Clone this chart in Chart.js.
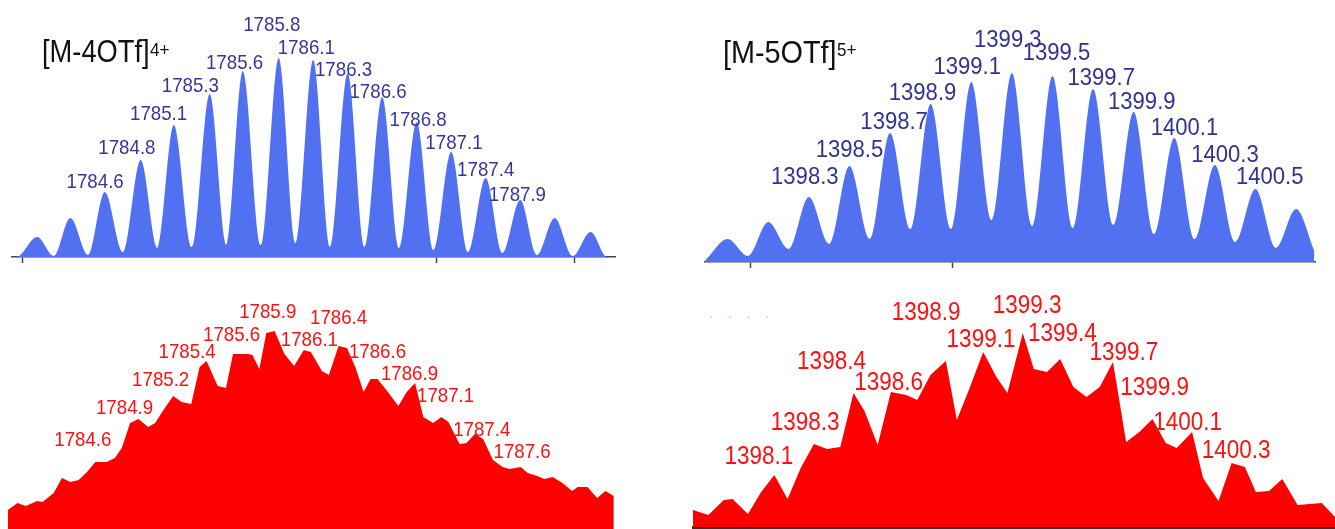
<!DOCTYPE html>
<html>
<head>
<meta charset="utf-8">
<script src="https://cdn.jsdelivr.net/npm/chart.js@4.4.1/dist/chart.umd.min.js"></script>
<style>
  html, body { margin: 0; padding: 0; background: #fff; }
  body { width: 1335px; height: 529px; position: relative; overflow: hidden; font-family: "Liberation Sans", Arial, sans-serif; }
  canvas { position: absolute; }
  .title { position: absolute; color: #111; line-height: 1; white-space: nowrap; transform-origin: 0 0; }
  .dots { position: absolute; color: #f2b9b9; font-size: 14px; line-height: 1; letter-spacing: 14px; }
</style>
</head>
<body>
<canvas id="tl" width="660" height="270" style="left:0;top:0"></canvas>
<canvas id="tr" width="655" height="275" style="left:680px;top:0"></canvas>
<canvas id="bl" width="660" height="249" style="left:0;top:280px"></canvas>
<canvas id="br" width="655" height="249" style="left:680px;top:280px"></canvas>

<div class="title" style="left:42px;top:36px;font-size:31px;transform:scaleX(0.88)">[M-4OTf]</div>
<div class="title" style="left:150px;top:41px;font-size:18px;transform:scaleX(0.95)">4+</div>
<div class="title" style="left:723px;top:36px;font-size:32px;transform:scaleX(0.9)">[M-5OTf]</div>
<div class="title" style="left:837px;top:41px;font-size:18px;transform:scaleX(0.95)">5+</div>
<div class="dots" style="left:709px;top:309px">····</div>

<script>
// [M-4OTf]4+ calculated isotope pattern (m/z, relative intensity)
const tlMz = [1783.93, 1783.96, 1784.11, 1784.23, 1784.35, 1784.48, 1784.60, 1784.73, 1784.86, 1784.98,
  1785.10, 1785.23, 1785.36, 1785.48, 1785.60, 1785.73, 1785.86, 1785.98, 1786.11, 1786.23,
  1786.36, 1786.48, 1786.61, 1786.73, 1786.86, 1786.98, 1787.11, 1787.23, 1787.36, 1787.48,
  1787.61, 1787.73, 1787.86, 1787.99, 1788.12, 1788.24, 1788.30];
const tlInt = [0, 0, 10.0, 0.5, 19.6, 1.0, 32.6, 2.5, 48.7, 4.5,
  66.3, 5.0, 81.8, 6.0, 93.4, 6.0, 99.9, 7.0, 98.9, 5.0,
  92.4, 5.0, 80.3, 4.5, 67.8, 3.5, 52.7, 2.5, 39.7, 2.0,
  28.6, 1.0, 19.6, 0.5, 12.6, 0, 0];
const tlTicks = [1784, 1787, 1788];
const tlLabels = ['1784.6', '1784.8', '1785.1', '1785.3', '1785.6', '1785.8', '1786.1', '1786.3', '1786.6', '1786.8', '1787.1', '1787.4', '1787.9'];
const tlLabelMz = [1784.53, 1784.76, 1784.99, 1785.22, 1785.54, 1785.81, 1786.06, 1786.33, 1786.58, 1786.87, 1787.13, 1787.36, 1787.59];
const tlLabelInt = [37.7, 54.7, 71.8, 85.9, 97.4, 116.5, 104.9, 93.9, 82.8, 68.8, 57.2, 43.7, 31.1];

// [M-5OTf]5+ calculated isotope pattern
const trMz = [1397.78, 1397.89, 1397.99, 1398.09, 1398.19, 1398.29, 1398.39, 1398.49, 1398.59, 1398.69,
  1398.79, 1398.89, 1398.99, 1399.09, 1399.19, 1399.29, 1399.39, 1399.49, 1399.59, 1399.69,
  1399.79, 1399.89, 1399.99, 1400.09, 1400.19, 1400.29, 1400.39, 1400.49, 1400.59, 1400.69, 1400.78];
const trInt = [1.0, 12.2, 3.2, 21.1, 6.9, 34.4, 9.5, 50.7, 12.2, 68.2,
  17.4, 83.5, 17.4, 95.2, 22.2, 99.9, 19.0, 98.3, 18.0, 91.5,
  19.6, 79.3, 14.8, 65.6, 12.2, 51.3, 10.6, 38.6, 7.4, 28.0, 5.8];
const trTicks = [1398, 1399];
const trLabels = ['1398.3', '1398.5', '1398.7', '1398.9', '1399.1', '1399.3', '1399.5', '1399.7', '1399.9', '1400.1', '1400.3', '1400.5'];
const trLabelMz = [1398.27, 1398.49, 1398.71, 1398.85, 1399.07, 1399.27, 1399.51, 1399.73, 1399.93, 1400.14, 1400.34, 1400.56];
const trLabelInt = [44.9, 59.2, 74.0, 89.3, 103.1, 117.4, 110.5, 97.3, 84.6, 70.8, 56.6, 44.9];

// [M-4OTf]4+ measured
const blMz = [1784.02, 1784.09, 1784.15, 1784.23, 1784.27, 1784.35, 1784.41, 1784.47, 1784.53, 1784.59,
  1784.65, 1784.73, 1784.79, 1784.84, 1784.90, 1784.96, 1785.03, 1785.08, 1785.14, 1785.21,
  1785.27, 1785.34, 1785.40, 1785.45, 1785.53, 1785.59, 1785.64, 1785.75, 1785.78, 1785.83,
  1785.88, 1785.94, 1786.01, 1786.08, 1786.15, 1786.20, 1786.28, 1786.33, 1786.40, 1786.46,
  1786.52, 1786.58, 1786.63, 1786.68, 1786.76, 1786.83, 1786.89, 1786.95, 1787.01, 1787.08,
  1787.14, 1787.19, 1787.27, 1787.32, 1787.38, 1787.44, 1787.51, 1787.58, 1787.63, 1787.71,
  1787.76, 1787.83, 1787.88, 1787.94, 1788.01, 1788.08, 1788.12, 1788.19, 1788.26, 1788.32, 1788.38];
const blInt = [9.6, 13.1, 11.6, 14.1, 13.6, 18.2, 25.7, 23.7, 24.7, 28.7,
  33.8, 33.8, 35.8, 40.8, 53.4, 55.5, 51.4, 53.4, 60.0, 67.1,
  64.0, 63.0, 81.7, 84.7, 72.1, 71.1, 88.2, 88.2, 87.7, 80.7,
  98.8, 99.8, 88.2, 82.2, 90.3, 89.2, 79.7, 77.6, 92.3, 91.3,
  81.7, 69.1, 75.6, 75.6, 68.6, 62.0, 69.1, 73.6, 56.5, 53.4,
  56.5, 54.0, 42.9, 43.4, 47.9, 45.4, 34.8, 31.3, 30.3, 31.3,
  28.2, 26.7, 25.2, 26.2, 23.2, 19.2, 21.2, 21.2, 15.6, 19.2, 16.6];
const blLabels = ['1784.6', '1784.9', '1785.2', '1785.4', '1785.6', '1785.9', '1786.1', '1786.4', '1786.6', '1786.9', '1787.1', '1787.4', '1787.6'];
const blLabelMz = [1784.56, 1784.86, 1785.12, 1785.31, 1785.63, 1785.89, 1786.19, 1786.40, 1786.68, 1786.91, 1787.17, 1787.43, 1787.72];
const blLabelInt = [44.9, 61.0, 75.1, 89.2, 97.8, 109.4, 95.3, 106.4, 89.2, 78.2, 67.1, 50.0, 38.8];

// [M-5OTf]5+ measured
const brMz = [1397.80, 1397.87, 1397.94, 1397.98, 1398.05, 1398.11, 1398.17, 1398.23, 1398.29, 1398.35,
  1398.41, 1398.47, 1398.53, 1398.58, 1398.64, 1398.70, 1398.77, 1398.82, 1398.88, 1398.95,
  1399.00, 1399.06, 1399.12, 1399.18, 1399.23, 1399.30, 1399.35, 1399.41, 1399.47, 1399.53,
  1399.59, 1399.65, 1399.71, 1399.77, 1399.83, 1399.89, 1399.95, 1400.00, 1400.07, 1400.12,
  1400.19, 1400.25, 1400.31, 1400.36, 1400.42, 1400.48, 1400.55, 1400.66, 1400.72];
const brInt = [8.7, 6.2, 13.8, 14.4, 6.7, 17.9, 26.7, 14.4, 30.3, 42.6,
  40.0, 41.0, 68.7, 59.5, 42.1, 69.2, 67.7, 65.1, 77.9, 85.1,
  54.9, 71.8, 89.7, 76.9, 68.7, 99.5, 81.0, 79.5, 86.2, 71.8,
  66.7, 71.8, 84.6, 43.6, 48.7, 55.4, 43.1, 40.5, 48.7, 25.1,
  13.3, 32.8, 30.8, 17.9, 18.5, 24.6, 11.3, 12.3, 5.1];
const brLabels = ['1398.1', '1398.3', '1398.4', '1398.6', '1398.9', '1399.1', '1399.3', '1399.4', '1399.7', '1399.9', '1400.1', '1400.3'];
const brLabelMz = [1398.10, 1398.31, 1398.43, 1398.69, 1398.86, 1399.11, 1399.32, 1399.48, 1399.76, 1399.90, 1400.05, 1400.27];
const brLabelInt = [35.9, 53.3, 84.6, 73.8, 109.7, 95.9, 113.3, 99.0, 89.2, 71.3, 53.3, 39.0];

const BLUE = '#5271f0';
const RED = '#ff0000';

// draws the m/z text over the peaks, positioned through the chart scales
function peakLabels(text, mz, ints, font, color, squeeze) {
  return {
    id: 'peakLabels',
    afterDatasetsDraw(chart) {
      const { ctx, scales: { x, y } } = chart;
      ctx.save();
      ctx.font = font;
      ctx.fillStyle = color;
      ctx.textAlign = 'center';
      ctx.textBaseline = 'middle';
      text.forEach((t, i) => {
        ctx.save();
        ctx.translate(x.getPixelForValue(mz[i]), y.getPixelForValue(ints[i]));
        ctx.scale(squeeze, 1);
        ctx.fillText(t, 0, 0);
        ctx.restore();
      });
      ctx.restore();
    }
  };
}

function spectrum(id, mz, ints, cfg) {
  return new Chart(document.getElementById(id), {
    type: 'line',
    data: {
      datasets: [{
        data: mz.map((v, i) => ({ x: v, y: ints[i] })),
        borderWidth: 0,
        backgroundColor: cfg.color,
        borderColor: cfg.color,
        fill: 'origin',
        pointRadius: 0,
        tension: cfg.smooth ? 0.4 : 0,
        cubicInterpolationMode: cfg.smooth ? 'monotone' : 'default'
      }]
    },
    options: {
      responsive: false,
      animation: false,
      events: [],
      layout: { padding: cfg.pad },
      plugins: { legend: { display: false }, tooltip: { enabled: false } },
      scales: {
        x: {
          type: 'linear',
          min: cfg.min,
          max: cfg.max,
          display: cfg.axisH > 0,
          afterBuildTicks: s => { s.ticks = cfg.ticks.map(v => ({ value: v })); },
          afterFit: s => { s.height = cfg.axisH; },
          ticks: { display: false },
          grid: { drawOnChartArea: false, drawTicks: true, tickLength: 6, tickColor: '#444', tickWidth: 1.5 },
          border: { display: true, color: cfg.axisColor || '#444', width: cfg.axisW || 1.5 }
        },
        y: { display: false, min: 0, max: 120 }
      }
    },
    plugins: [peakLabels(cfg.labels, cfg.labelMz, cfg.labelInt, cfg.font, cfg.textColor, cfg.squeeze)]
  });
}

spectrum('tl', tlMz, tlInt, {
  color: BLUE, smooth: true, min: 1783.9275, max: 1788.297, ticks: tlTicks, axisH: 13,
  pad: { left: 12, right: 45, top: 18, bottom: 0 },
  labels: tlLabels, labelMz: tlLabelMz, labelInt: tlLabelInt,
  font: '21px "Liberation Sans", Arial, sans-serif', textColor: '#36369a', squeeze: 0.89
});

spectrum('tr', trMz, trInt, {
  color: BLUE, smooth: true, min: 1397.7783, max: 1400.7833, ticks: trTicks, axisH: 13,
  pad: { left: 25, right: 20, top: 35, bottom: 0 },
  labels: trLabels, labelMz: trLabelMz, labelInt: trLabelInt,
  font: '24px "Liberation Sans", Arial, sans-serif', textColor: '#33338f', squeeze: 0.92
});

spectrum('bl', blMz, blInt, {
  color: RED, smooth: false, min: 1784.0144, max: 1788.3885, ticks: [], axisH: 0,
  pad: { left: 7, right: 45, top: 11, bottom: 0 },
  labels: blLabels, labelMz: blLabelMz, labelInt: blLabelInt,
  font: '21px "Liberation Sans", Arial, sans-serif', textColor: '#ff1010', squeeze: 0.89
});

spectrum('br', brMz, brInt, {
  color: RED, smooth: false, min: 1397.80, max: 1400.72, ticks: [], axisH: 2, axisColor: '#333', axisW: 3,
  pad: { left: 13, right: 0, top: 13, bottom: 0 },
  labels: brLabels, labelMz: brLabelMz, labelInt: brLabelInt,
  font: '25px "Liberation Sans", Arial, sans-serif', textColor: '#ff1010', squeeze: 0.9
});
</script>
</body>
</html>
